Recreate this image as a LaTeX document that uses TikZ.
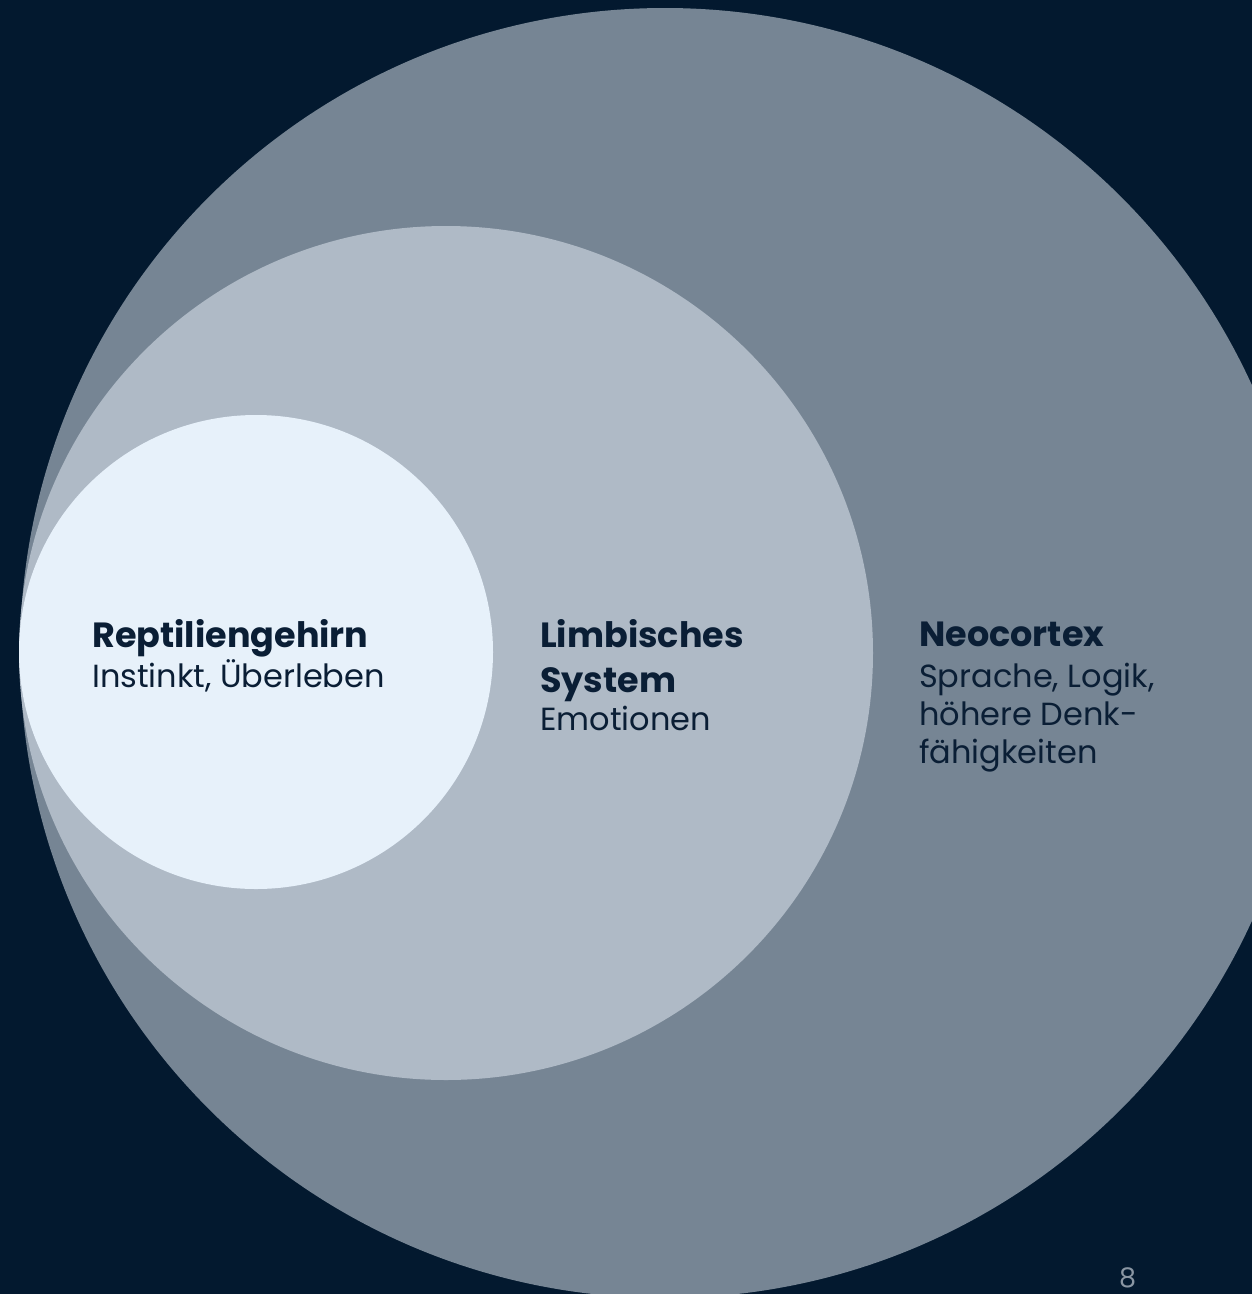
\documentclass[tikz,border=0pt]{standalone}
\usepackage{fontspec}
\setmainfont{Poppins}
\usepackage{xcolor}
\usepackage{tikz}
\usetikzlibrary{positioning}
\definecolor{nightblue}{HTML}{03192F}
\definecolor{neoblue}{HTML}{768594}
\definecolor{limbblue}{HTML}{AFBAC6}
\definecolor{reptblue}{HTML}{E7F1FA}
\definecolor{inkblue}{HTML}{0A1E35}
\definecolor{pagegrey}{HTML}{8A96A3}
\newcommand{\layertitle}[1]{{\fontsize{35}{38}\selectfont\bfseries #1}}
\tikzset{layer/.style ={circle, inner sep=0pt, draw=none}}
\tikzset{label text/.style ={anchor=base west, inner sep=0pt, align=left, text=inkblue, font=\fontsize{32}{38}\selectfont}}

\begin{document}
\begin{tikzpicture}[x=1pt,y=1pt]
\fill[nightblue] (0,0) rectangle (1252,-1294);
\useasboundingbox (0,0) rectangle (1252,-1294);
\node [layer, fill=neoblue, minimum size=1290pt] (neo) at (665,-653) {};
\node [layer, fill=limbblue, minimum size=854pt] (limb) at (446,-653) {};
\node [layer, fill=reptblue, minimum size=474pt] (rept) at (256,-652) {};
\node [label text] (repttext) at (92,-687) {\layertitle{Reptiliengehirn}\\[2pt]Instinkt, Überleben};
\node [label text] (limbtext) at (540,-730) {\layertitle{Limbisches}\\[7pt]\layertitle{System}\\Emotionen};
\node [label text] (neotext) at (919,-763) {\layertitle{Neocortex}\\[3pt]Sprache, Logik,\\höhere Denk-\\fähigkeiten};
\node [anchor=base west, inner sep=0pt, text=pagegrey, font=\fontsize{27}{30}\selectfont] (page) at (1119,-1287) {8};
\end{tikzpicture}
\end{document}
